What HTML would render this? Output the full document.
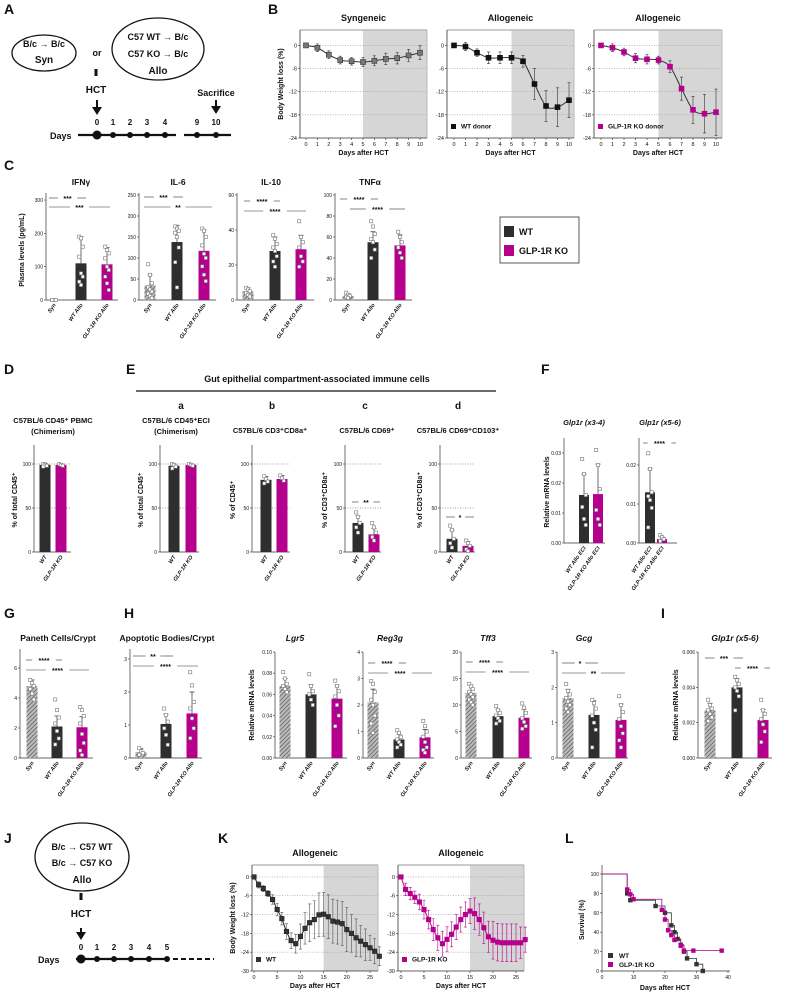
<!DOCTYPE html>
<html><head><meta charset="utf-8"><style>
html,body{margin:0;padding:0;background:#fff;}
svg{display:block;font-family:"Liberation Sans",sans-serif;}
</style></head><body>
<svg id="fig" width="787" height="1001" viewBox="0 0 787 1001" xmlns="http://www.w3.org/2000/svg">
<defs>
<pattern id="hatch" width="3" height="3" patternUnits="userSpaceOnUse" patternTransform="rotate(45)">
<rect width="3" height="3" fill="#bbb"/><line x1="0" y1="0" x2="0" y2="3" stroke="#555" stroke-width="1.4"/>
</pattern>
</defs>
</svg>
<script>
// ---------------- DATA ----------------
const bDays=[0,1,2,3,4,5,6,7,8,9,10];
const bSynMean=[0,-0.6,-2.4,-3.8,-4.1,-4.3,-4,-3.5,-3.3,-2.6,-1.9];
const bSynErr=[0,1,1,1,1,1.2,1.3,1.5,1.5,1.6,1.8];
const bWtMean=[0,-0.3,-1.9,-3.2,-3.2,-3.2,-4.1,-10,-15.7,-16,-14.2];
const bWtErr=[0,1,1,1.5,1.5,1.5,1.5,4,4,5,4.5];
const bKoMean=[0,-0.6,-1.7,-3.3,-3.6,-3.8,-5.5,-11.2,-16.7,-17.7,-17.3];
const bKoErr=[0,1,1,1.2,1.2,1,1.5,3,3.5,5,6];
const bYTicks=[0,-6,-12,-18,-24];

const cGroups=["Syn","WT Allo","GLP-1R KO Allo"];
const ifnMean=[1,110,107]; const ifnErr=[0,80,50];
const ifnPts=[[0,0,0,0],[190,185,160,130,80,70,55,45],[160,150,140,125,100,90,70,50,30]];
const il6Mean=[35,138,117]; const il6Err=[25,40,50];
const il6Pts=[[85,60,40,30,25,20,15,10,5],[175,170,165,160,150,125,90,30],[170,165,150,130,110,100,80,60,45]];
const il10Mean=[5,28,29]; const il10Err=[2,8,8];
const il10Pts=[[7,6,5,4,3,2],[37,35,32,30,28,25,22,19],[45,36,33,30,25,22,19]];
const tnfMean=[4,55,52]; const tnfErr=[2,10,10];
const tnfPts=[[7,5,4,3,2],[75,70,63,58,55,48,40],[65,60,55,50,45,40]];

const dGroups=["WT","GLP-1R KO"];
const dMean=[99,99]; const dErr=[2,1]; const dPts=[[100,99,98,97],[100,99,98]];
const eaMean=[98,99]; const eaErr=[2,1]; const eaPts=[[100,99,97,95],[100,99,98]];
const ebMean=[82,83]; const ebErr=[4,4]; const ebPts=[[86,83,80,78],[87,84,81]];
const ecMean=[33,20]; const ecErr=[8,7]; const ecPts=[[45,40,33,28,22],[33,28,22,17,13]];
const edMean=[15,7]; const edErr=[10,5]; const edPts=[[30,25,15,10,5],[13,10,7,3,1]];
const fGroups=["WT Allo ECI","GLP-1R KO Allo ECI"];
const f1Mean=[0.016,0.0163]; const f1Err=[0.007,0.01];
const f1Pts=[[0.028,0.023,0.016,0.012,0.008,0.006],[0.031,0.026,0.018,0.011,0.008,0.006]];
const f2Mean=[0.013,0.001]; const f2Err=[0.006,0.0005];
const f2Pts=[[0.023,0.019,0.013,0.012,0.011,0.009,0.004],[0.002,0.0015,0.001,0.0005]];

const g1Mean=[4.8,2.1,2.05]; const g1Err=[0.4,0.7,0.7];
const g1Pts=[[5.2,5,4.8,4.6,4.3,3.9],[3.9,3.2,2.7,2.3,1.8,1.3,0.9],[3.4,3.2,2.8,2.3,1.6,1,0.5,0.2]];
const g2Mean=[0.18,1.03,1.35]; const g2Err=[0.1,0.3,0.65];
const g2Pts=[[0.3,0.2,0.15,0.1],[1.5,1.3,1.1,0.9,0.7,0.4],[2.6,2.2,1.7,1.5,1.2,0.9,0.6]];
const lgr5Mean=[0.068,0.060,0.056]; const lgr5Err=[0.007,0.009,0.012];
const lgr5Pts=[[0.081,0.075,0.07,0.068,0.065,0.062],[0.079,0.068,0.063,0.06,0.055,0.05],[0.073,0.068,0.063,0.058,0.05,0.04,0.03]];
const reg3gMean=[2.1,0.7,0.78]; const reg3gErr=[0.5,0.2,0.3];
const reg3gPts=[[2.9,2.8,2.5,2.2,2,1.6,1.3,0.95],[1.05,0.95,0.8,0.7,0.6,0.5,0.4],[1.4,1.2,1,0.8,0.6,0.4,0.3,0.2]];
const tff3Mean=[12.3,7.9,7.6]; const tff3Err=[1.5,1.3,1.6];
const tff3Pts=[[14,13.5,13,12.5,12,11.5,11,10.5,10],[9.8,9,8.5,8,7.5,7,6.5],[10.3,9.5,8.5,7.5,6.8,6,5.5]];
const gcgMean=[1.7,1.22,1.08]; const gcgErr=[0.25,0.4,0.45];
const gcgPts=[[2.1,1.9,1.8,1.7,1.6,1.5,1.4,1.3],[1.65,1.55,1.4,1.2,1,0.8,0.3],[1.75,1.5,1.3,1.1,0.9,0.7,0.5,0.3]];
const iMean=[0.0027,0.0040,0.00215]; const iErr=[0.0004,0.0005,0.0006];
const iPts=[[0.0033,0.003,0.0028,0.0027,0.0025,0.0023,0.0021],[0.0046,0.0044,0.0042,0.004,0.0038,0.0035,0.0027],[0.0033,0.0027,0.0025,0.0022,0.0019,0.0015,0.0009]];

const kDays=[0,1,2,3,4,5,6,7,8,9,10,11,12,13,14,15,16,17,18,19,20,21,22,23,24,25,26,27];
const kWtMean=[0,-2.5,-3.7,-5.3,-7.2,-10.4,-13.3,-17.4,-20.3,-21.3,-19,-16.4,-14.6,-13.6,-12.1,-11.9,-12.7,-14.1,-14.4,-14.9,-16.8,-18,-19.4,-20.5,-21.6,-22.6,-23.7,-25.3];
const kWtErr=[0,1,1,1,1.5,2,2,2.5,2.5,3,4,5,6,6,7,7,7,7,7,7,7,6,6,5,5,4,4,3];
const kKoMean=[0,-4,-5.3,-6.5,-8,-10.4,-13.6,-16.8,-19.4,-21.3,-19.9,-18.3,-16,-13.6,-12,-10.9,-11.7,-13.6,-16.2,-19.1,-20.2,-20.8,-21,-21,-21,-21,-21,-20];
const kKoErr=[0,2,2,2,2.5,3,3,3.5,4,4,4,4,4,4,4,4,5,5,5,5,6,6,6,6,6,6,5,4];
const kYTicks=[0,-6,-12,-18,-24,-30];
const kXTicks=[0,5,10,15,20,25];

const lWtT=[0,8,9,17,20,22,23,24,25,26,27,30,32];
const lWtS=[100,80,73,67,60,47,40,33,27,20,13,7,0];
const lKoT=[0,8,9,10,19,20,21,22,23,25,26,29,38];
const lKoS=[100,84,79,74,63,53,42,37,32,26,21,21,21];
const lXTicks=[0,10,20,30,40];
const lYTicks=[0,20,40,60,80,100];

// ---------------- HELPERS ----------------
const NS="http://www.w3.org/2000/svg";
const svg=document.getElementById('fig');
const WT="#2e2e2e", KO="#b4008c";
function mk(tag,attrs,parent){const e=document.createElementNS(NS,tag);for(const k in attrs)e.setAttribute(k,attrs[k]);(parent||svg).appendChild(e);return e;}
function txt(x,y,s,size,opts,parent){const o=Object.assign({x:x,y:y,'font-size':size,fill:'#111'},opts||{});const t=mk('text',o,parent);t.textContent=s;return t;}
function fmt(v){return String(v);}

// panel letters
[["A",4,14],["B",268,14],["C",4,170],["D",4,374],["E",126,374],["F",541,374],["G",4,618],["H",124,618],["I",661,618],["J",4,843],["K",218,843],["L",565,843]].forEach(p=>{
  const t=txt(p[1],p[2],p[0],14,{'font-weight':'bold'});
  
  
});

// ---------------- PANEL A ----------------
(function(){
  const g=mk('g',{});
  
  
  const e1=mk('ellipse',{cx:44,cy:53,rx:32,ry:18,fill:'none',stroke:'#111','stroke-width':1.3},g);
  
  
  txt(44,47,"B/c → B/c",9,{'text-anchor':'middle','font-weight':'bold'},g);
  txt(44,63,"Syn",10,{'text-anchor':'middle','font-weight':'bold'},g);
  txt(97,56,"or",9,{'text-anchor':'middle','font-weight':'bold'},g);
  const e2=mk('ellipse',{cx:158,cy:49,rx:46,ry:31,fill:'none',stroke:'#111','stroke-width':1.3},g);
  
  
  txt(158,40,"C57 WT → B/c",9,{'text-anchor':'middle','font-weight':'bold'},g);
  txt(158,57,"C57 KO  → B/c",9,{'text-anchor':'middle','font-weight':'bold'},g);
  txt(158,74,"Allo",10,{'text-anchor':'middle','font-weight':'bold'},g);
  mk('rect',{x:94.5,y:69,width:3,height:7,fill:'#111'},g);
  txt(96,93,"HCT",10,{'text-anchor':'middle','font-weight':'bold'},g);
  mk('line',{x1:97,y1:100,x2:97,y2:108,stroke:'#111','stroke-width':2},g);
  mk('path',{d:'M92,107 L102,107 L97,115 Z',fill:'#111'},g);
  txt(216,96,"Sacrifice",9,{'text-anchor':'middle','font-weight':'bold'},g);
  mk('line',{x1:216,y1:100,x2:216,y2:107,stroke:'#111','stroke-width':2},g);
  mk('path',{d:'M211,106 L221,106 L216,114 Z',fill:'#111'},g);
  txt(50,139,"Days",9,{'font-weight':'bold'},g);
  mk('line',{x1:78,y1:135,x2:176,y2:135,stroke:'#111','stroke-width':2.2},g);
  mk('line',{x1:184,y1:135,x2:231,y2:135,stroke:'#111','stroke-width':2.2},g);
  const dx=[97,113,130,147,165,197,216], dl=["0","1","2","3","4","9","10"];
  dx.forEach((x,i)=>{mk('circle',{cx:x,cy:135,r:i==0?4.5:3,fill:'#111'},g);txt(x,125,dl[i],8,{'text-anchor':'middle','font-weight':'bold'},g);});
})();

// ---------------- LINE PANELS (B, K) ----------------
function smoothPath(pts){
  let d='M'+pts[0][0]+','+pts[0][1];
  for(let i=0;i<pts.length-1;i++){
    const p0=pts[Math.max(0,i-1)],p1=pts[i],p2=pts[i+1],p3=pts[Math.min(pts.length-1,i+2)];
    const c1x=p1[0]+(p2[0]-p0[0])/6,c1y=p1[1]+(p2[1]-p0[1])/6,c2x=p2[0]-(p3[0]-p1[0])/6,c2y=p2[1]-(p3[1]-p1[1])/6;
    d+=` C${c1x},${c1y} ${c2x},${c2y} ${p2[0]},${p2[1]}`;
  }
  return d;
}
function linePanel(o){
  const g=mk('g',{});
  
  
  const sx=v=>o.dx0+(v-o.xmin)*(o.dx1-o.dx0)/(o.xref-o.xmin);
  const sy=v=>o.top+(o.ymax-v)*(o.bot-o.top)/(o.ymax-o.ymin);
  const sh=mk('rect',{x:sx(o.shade),y:o.top,width:o.right-sx(o.shade),height:o.bot-o.top,fill:'#d6d6d6'},g);
  
  
  mk('line',{x1:o.left,y1:o.top,x2:o.right,y2:o.top,stroke:'#bbb','stroke-width':1.5},g);
  mk('line',{x1:o.right,y1:o.top,x2:o.right,y2:o.bot,stroke:'#bbb','stroke-width':1},g);
  mk('line',{x1:o.left,y1:o.top,x2:o.left,y2:o.bot,stroke:'#333','stroke-width':0.8},g);
  mk('line',{x1:o.left,y1:o.bot,x2:o.right,y2:o.bot,stroke:'#333','stroke-width':0.8},g);
  o.yt.forEach(v=>{
    const y=sy(v);
    if(v!==o.ymin) mk('line',{x1:o.left,y1:y,x2:o.right,y2:y,stroke:'#999','stroke-width':0.6,'stroke-dasharray':'1,1.5'},g);
    mk('line',{x1:o.left-2,y1:y,x2:o.left,y2:y,stroke:'#333','stroke-width':0.6},g);
    txt(o.left-3,y+2,fmt(v),5.5,{'text-anchor':'end'},g);
  });
  o.xt.forEach(v=>{
    const x=sx(v);
    mk('line',{x1:x,y1:o.bot,x2:x,y2:o.bot+2,stroke:'#333','stroke-width':0.6},g);
    txt(x,o.bot+8,fmt(v),5.5,{'text-anchor':'middle'},g);
  });
  const xl=txt((o.left+o.right)/2,o.bot+17,"Days after HCT",7,{'text-anchor':'middle','font-weight':'bold'},g);
  
  
  const tt=txt((o.left+o.right)/2,o.top-9,o.title,9,{'text-anchor':'middle','font-weight':'bold'},g);
  
  
  if(o.ylabel){
    const yl=txt(0,0,"Body Weight loss (%)",7,{'text-anchor':'middle','font-weight':'bold',transform:`translate(${o.left-17},${(o.top+o.bot)/2}) rotate(-90)`},g);
    
    
  }
  const pts=o.days.map((d,i)=>[sx(d),sy(o.mean[i])]);
  const ln=mk('path',{d:smoothPath(pts),fill:'none',stroke:o.lineColor,'stroke-width':1},g);
  
  
  o.days.forEach((d,i)=>{
    const x=sx(d),y=sy(o.mean[i]),e=o.err[i];
    if(e>0){
      const eb=mk('path',{d:`M${x},${sy(o.mean[i]+e)} V${sy(o.mean[i]-e)} M${x-1.5},${sy(o.mean[i]+e)} H${x+1.5} M${x-1.5},${sy(o.mean[i]-e)} H${x+1.5}`,stroke:o.errColor,'stroke-width':0.6,fill:'none'},g);
      
      
    }
    const m=mk('rect',{x:x-o.ms/2,y:y-o.ms/2,width:o.ms,height:o.ms,fill:o.color,stroke:o.stroke,'stroke-width':0.6},g);
    
    
  });
  if(o.legend){
    const ls=mk('rect',{x:o.left+4,y:o.bot-14,width:5,height:5,fill:o.color},g);
    
    
    const lt=txt(o.left+14,o.bot-9.5,o.legend,6.5,{'font-weight':'bold'},g);
    
    
  }
}
const bBase={top:30,bot:138,ymax:4,ymin:-24,xmin:0,xref:10,shade:5,yt:bYTicks,xt:bDays,days:bDays,ms:5};
linePanel(Object.assign({},bBase,{name:'chart-b-syngeneic',left:300,right:427,dx0:306,dx1:420,title:"Syngeneic",mean:bSynMean,err:bSynErr,color:'#777',stroke:'#333',lineColor:'#333',errColor:'#333',ylabel:true}));
linePanel(Object.assign({},bBase,{name:'chart-b-allo-wt',left:447,right:574,dx0:454,dx1:569,title:"Allogeneic",mean:bWtMean,err:bWtErr,color:'#111',stroke:'#111',lineColor:'#333',errColor:'#333',legend:"WT donor"}));
linePanel(Object.assign({},bBase,{name:'chart-b-allo-ko',left:594,right:722,dx0:601,dx1:716,title:"Allogeneic",mean:bKoMean,err:bKoErr,color:KO,stroke:KO,lineColor:'#333',errColor:'#333',legend:"GLP-1R KO donor"}));
const kBase={top:865,bot:971,ymax:3.8,ymin:-30,xmin:0,xref:25,shade:15,yt:kYTicks,xt:kXTicks,days:kDays,ms:4.5};
linePanel(Object.assign({},kBase,{name:'chart-k-wt',left:252,right:378,dx0:254,dx1:370,title:"Allogeneic",mean:kWtMean,err:kWtErr,color:'#333',stroke:'#222',lineColor:'#222',errColor:'#555',ylabel:true,legend:"WT"}));
linePanel(Object.assign({},kBase,{name:'chart-k-ko',left:398,right:524,dx0:401,dx1:516,title:"Allogeneic",mean:kKoMean,err:kKoErr,color:KO,stroke:KO,lineColor:KO,errColor:KO,legend:"GLP-1R KO"}));

// ---------------- BAR PANELS ----------------
function barPanel(o){
  const g=mk('g',{});
  
  
  const sy=v=>o.base-(v-0)*o.ppu;
  const top=o.top;
  mk('line',{x1:o.ax,y1:top,x2:o.ax,y2:o.base,stroke:'#333','stroke-width':0.7},g);
  mk('line',{x1:o.ax,y1:o.base,x2:o.right,y2:o.base,stroke:'#333','stroke-width':0.7},g);
  o.ticks.forEach((v,i)=>{
    const y=sy(v);
    mk('line',{x1:o.ax-2,y1:y,x2:o.ax,y2:y,stroke:'#333','stroke-width':0.6},g);
    txt(o.ax-3,y+2,o.tl[i],5,{'text-anchor':'end'},g);
  });
  (o.grid||[]).forEach(v=>mk('line',{x1:o.ax,y1:sy(v),x2:o.right,y2:sy(v),stroke:'#444','stroke-width':0.6,'stroke-dasharray':'1,1.5'},g));
  if(o.title){
    const t=txt(o.tx!==undefined?o.tx:(o.ax+o.right)/2,o.ty,o.title,o.tsize||8.5,{'text-anchor':'middle','font-weight':'bold','font-style':o.italic?'italic':'normal'},g);
    
    
  }
  if(o.ylabel){
    const yl=txt(0,0,o.ylabel,7,{'text-anchor':'middle','font-weight':'bold',transform:`translate(${o.ylx},${o.yly}) rotate(-90)`},g);
    
    
  }
  const w=o.bw||11;
  o.bx.forEach((x,i)=>{
    const v=o.mean[i];
    const fill=o.types[i]==='syn'?'url(#hatch)':(o.types[i]==='wt'?WT:KO);
    const b=mk('rect',{x:x-w/2,y:sy(v),width:w,height:o.base-sy(v),fill:fill},g);
    
    
    const e=o.err[i];
    if(e>0){
      const eb=mk('path',{d:`M${x},${sy(v)} V${sy(v+e)} M${x-2.5},${sy(v+e)} H${x+2.5}`,stroke:'#333','stroke-width':0.7,fill:'none'},g);
      
      
    }
    o.pts[i].forEach((p,j)=>{
      const jit=((j%3)-1)*1.8;
      const pt=mk('rect',{x:x+jit-1.6,y:sy(p)-1.6,width:3.2,height:3.2,fill:'#fff',stroke:'#777','stroke-width':0.6},g);
      
      
    });
    const lab=txt(0,0,o.groups[i],5.5,{'text-anchor':'end','font-weight':'bold','font-style':'italic',transform:`translate(${x+2},${o.base+5}) rotate(-55)`},g);
    
    
  });
  (o.sig||[]).forEach(s=>{
    const mid=(s[0]+s[1])/2, hw=s[3].length*2.2+3;
    mk('line',{x1:s[0],y1:s[2],x2:mid-hw,y2:s[2],stroke:'#333','stroke-width':0.6},g);
    mk('line',{x1:mid+hw,y1:s[2],x2:s[1],y2:s[2],stroke:'#333','stroke-width':0.6},g);
    const st=txt(mid,s[2]+3,s[3],7,{'text-anchor':'middle','font-weight':'bold'},g);
    
    
  });
}
const T3=['syn','wt','ko'], T2=['wt','ko'];
// C
barPanel({name:'chart-c-ifng',ax:46,right:118,base:300,top:193,ppu:0.3333,ticks:[0,100,200,300],tl:["0","100","200","300"],bx:[54,81,107],mean:ifnMean,err:ifnErr,pts:ifnPts,types:T3,groups:cGroups,title:"IFNγ",ty:185,tx:81,ylabel:"Plasma levels (pg/mL)",ylx:24,yly:250,sig:[[49,86,198,"***"],[49,110,207,"***"]]});
barPanel({name:'chart-c-il6',ax:139,right:216,base:300,top:193,ppu:0.42,ticks:[0,50,100,150,200,250],tl:["0","50","100","150","200","250"],bx:[150,177,204],mean:il6Mean,err:il6Err,pts:il6Pts,types:T3,groups:cGroups,title:"IL-6",ty:185,tx:178,sig:[[144,183,197,"***"],[144,212,207,"**"]]});
barPanel({name:'chart-c-il10',ax:237,right:314,base:300,top:193,ppu:1.75,ticks:[0,20,40,60],tl:["0","20","40","60"],bx:[248,275,301],mean:il10Mean,err:il10Err,pts:il10Pts,types:T3,groups:cGroups,title:"IL-10",ty:185,tx:271,sig:[[244,280,201,"****"],[244,306,211,"****"]]});
barPanel({name:'chart-c-tnfa',ax:335,right:412,base:300,top:193,ppu:1.05,ticks:[0,20,40,60,80,100],tl:["0","20","40","60","80","100"],bx:[348,373,400],mean:tnfMean,err:tnfErr,pts:tnfPts,types:T3,groups:cGroups,title:"TNFα",ty:185,tx:370,sig:[[340,378,199,"****"],[350,405,209,"****"]]});
// legend C
(function(){
  const g=mk('g',{});
  
  
  mk('rect',{x:500,y:217,width:79,height:46,fill:'#fff',stroke:'#333','stroke-width':0.8},g);
  mk('rect',{x:504,y:226,width:10,height:11,fill:WT},g);
  const l1=txt(519,235,"WT",9,{'font-weight':'bold'},g);
  
  
  mk('rect',{x:504,y:245,width:10,height:11,fill:KO},g);
  const l2=txt(519,254,"GLP-1R KO",9,{'font-weight':'bold'},g);
  
  
})();
// E header
(function(){
  const h=txt(317,382,"Gut epithelial compartment-associated immune cells",9,{'text-anchor':'middle','font-weight':'bold'});
  
  
  mk('line',{x1:136,y1:391,x2:496,y2:391,stroke:'#111','stroke-width':1.3});
  [["a",181],["b",272],["c",365],["d",458]].forEach(s=>{const t=txt(s[1],409,s[0],10,{'text-anchor':'middle','font-weight':'bold'});});
})();
// D, E
const pctTicks=[0,50,100], pctTL=["0","50","100"];
const dppu=(552-464)/100;
barPanel({name:'chart-d-pbmc',ax:34,right:71,base:552,top:445,ppu:dppu,ticks:pctTicks,tl:pctTL,grid:[50,100],bx:[45,61],mean:dMean,err:dErr,pts:dPts,types:T2,groups:dGroups,ylabel:"% of total CD45⁺",ylx:17,yly:500});
barPanel({name:'chart-e-a-eci',ax:160,right:199,base:552,top:445,ppu:dppu,ticks:pctTicks,tl:pctTL,grid:[50,100],bx:[174,191],mean:eaMean,err:eaErr,pts:eaPts,types:T2,groups:dGroups,ylabel:"% of total CD45⁺",ylx:143,yly:500});
barPanel({name:'chart-e-b-cd3cd8a',ax:252,right:290,base:552,top:445,ppu:dppu,ticks:pctTicks,tl:pctTL,grid:[50,100],bx:[266,282],mean:ebMean,err:ebErr,pts:ebPts,types:T2,groups:dGroups,ylabel:"% of CD45⁺",ylx:235,yly:500});
barPanel({name:'chart-e-c-cd69',ax:345,right:381,base:552,top:445,ppu:dppu,ticks:pctTicks,tl:pctTL,grid:[50,100],bx:[358,374],mean:ecMean,err:ecErr,pts:ecPts,types:T2,groups:dGroups,ylabel:"% of CD3⁺CD8a⁺",ylx:327,yly:500,sig:[[352,380,502,"**"]]});
barPanel({name:'chart-e-d-cd69cd103',ax:440,right:475,base:552,top:445,ppu:dppu,ticks:pctTicks,tl:pctTL,grid:[50,100],bx:[452,468],mean:edMean,err:edErr,pts:edPts,types:T2,groups:dGroups,ylabel:"% of CD3⁺CD8a⁺",ylx:422,yly:500,sig:[[446,474,517,"*"]]});
[["C57BL/6 CD45⁺ PBMC",53,423],["(Chimerism)",53,434],["C57BL/6 CD45⁺ECI",176,423],["(Chimerism)",176,434],["C57BL/6 CD3⁺CD8a⁺",270,433],["C57BL/6 CD69⁺",367,433],["C57BL/6 CD69⁺CD103⁺",458,433]].forEach(s=>{
  const t=txt(s[1],s[2],s[0],7.5,{'text-anchor':'middle','font-weight':'bold'});
  
  
});
// F
barPanel({name:'chart-f-glp1r-x34',ax:564,right:605,base:543,top:438,ppu:3000,ticks:[0,0.01,0.02,0.03],tl:["0.00","0.01","0.02","0.03"],bx:[584,598],bw:10,mean:f1Mean,err:f1Err,pts:f1Pts,types:T2,groups:fGroups,title:"Glp1r (x3-4)",italic:true,ty:425,tx:584,tsize:7.5,ylabel:"Relative mRNA levels",ylx:549,yly:492});
barPanel({name:'chart-f-glp1r-x56',ax:639,right:677,base:543,top:438,ppu:3900,ticks:[0,0.01,0.02],tl:["0.00","0.01","0.02"],bx:[650,662],bw:10,mean:f2Mean,err:f2Err,pts:f2Pts,types:T2,groups:fGroups,title:"Glp1r (x5-6)",italic:true,ty:425,tx:660,tsize:7.5,sig:[[643,676,443,"****"]]});
// G, H, I
barPanel({name:'chart-g-paneth',ax:20,right:93,base:758,top:649,ppu:15,ticks:[0,2,4,6],tl:["0","2","4","6"],bx:[32,57,82],mean:g1Mean,err:g1Err,pts:g1Pts,types:T3,groups:cGroups,title:"Paneth Cells/Crypt",ty:641,tx:58,sig:[[26,62,660,"****"],[26,89,670,"****"]]});
barPanel({name:'chart-g-apoptotic',ax:130,right:202,base:758,top:649,ppu:33,ticks:[0,1,2,3],tl:["0","1","2","3"],grid:[0],bx:[141,166,192],mean:g2Mean,err:g2Err,pts:g2Pts,types:T3,groups:cGroups,title:"Apoptotic Bodies/Crypt",ty:641,tx:167,sig:[[133,173,656,"**"],[133,198,666,"****"]]});
barPanel({name:'chart-h-lgr5',ax:275,right:347,base:758,top:652,ppu:1060,ticks:[0,0.02,0.04,0.06,0.08,0.10],tl:["0.00","0.02","0.04","0.06","0.08","0.10"],bx:[285,311,337],mean:lgr5Mean,err:lgr5Err,pts:lgr5Pts,types:T3,groups:cGroups,title:"Lgr5",italic:true,ty:641,tx:295,ylabel:"Relative mRNA levels",ylx:254,yly:705});
barPanel({name:'chart-h-reg3g',ax:363,right:434,base:758,top:652,ppu:26.5,ticks:[0,1,2,3,4],tl:["0","1","2","3","4"],bx:[373,399,425],mean:reg3gMean,err:reg3gErr,pts:reg3gPts,types:T3,groups:cGroups,title:"Reg3g",italic:true,ty:641,tx:390,sig:[[368,406,663,"****"],[368,432,673,"****"]]});
barPanel({name:'chart-h-tff3',ax:461,right:532,base:758,top:652,ppu:5.3,ticks:[0,5,10,15,20],tl:["0","5","10","15","20"],bx:[471,498,524],mean:tff3Mean,err:tff3Err,pts:tff3Pts,types:T3,groups:cGroups,title:"Tff3",italic:true,ty:641,tx:488,sig:[[466,503,662,"****"],[466,529,672,"****"]]});
barPanel({name:'chart-h-gcg',ax:557,right:628,base:758,top:652,ppu:35.3,ticks:[0,1,2,3],tl:["0","1","2","3"],bx:[568,594,621],mean:gcgMean,err:gcgErr,pts:gcgPts,types:T3,groups:cGroups,title:"Gcg",italic:true,ty:641,tx:584,sig:[[562,598,663,"*"],[562,625,673,"**"]]});
barPanel({name:'chart-i-glp1r',ax:698,right:772,base:758,top:652,ppu:17650,ticks:[0,0.002,0.004,0.006],tl:["0.000","0.002","0.004","0.006"],bx:[710,737,763],mean:iMean,err:iErr,pts:iPts,types:T3,groups:cGroups,title:"Glp1r (x5-6)",italic:true,ty:641,tx:735,ylabel:"Relative mRNA levels",ylx:678,yly:705,sig:[[705,743,658,"***"],[735,770,668,"****"]]});

// ---------------- PANEL J ----------------
(function(){
  const g=mk('g',{});
  
  
  const e=mk('ellipse',{cx:82,cy:857,rx:47,ry:34,fill:'none',stroke:'#111','stroke-width':1.3},g);
  
  
  txt(82,850,"B/c → C57 WT",9,{'text-anchor':'middle','font-weight':'bold'},g);
  txt(82,866,"B/c → C57 KO",9,{'text-anchor':'middle','font-weight':'bold'},g);
  txt(82,883,"Allo",10,{'text-anchor':'middle','font-weight':'bold'},g);
  mk('rect',{x:79.5,y:893,width:3,height:7,fill:'#111'},g);
  txt(81,917,"HCT",10,{'text-anchor':'middle','font-weight':'bold'},g);
  mk('line',{x1:81,y1:928,x2:81,y2:933,stroke:'#111','stroke-width':2},g);
  mk('path',{d:'M76,932 L86,932 L81,940 Z',fill:'#111'},g);
  txt(38,963,"Days",9,{'font-weight':'bold'},g);
  mk('line',{x1:76,y1:959,x2:169,y2:959,stroke:'#111','stroke-width':2.2},g);
  mk('line',{x1:173,y1:959,x2:214,y2:959,stroke:'#111','stroke-width':2,'stroke-dasharray':'5,3'},g);
  [81,97,114,131,149,167].forEach((x,i)=>{mk('circle',{cx:x,cy:959,r:i==0?4.5:3,fill:'#111'},g);txt(x,950,String(i),8,{'text-anchor':'middle','font-weight':'bold'},g);});
})();

// ---------------- PANEL L (survival) ----------------
(function(){
  const g=mk('g',{});
  
  
  const x0=602,x1=728,y0=971,y1=874;
  const sx=v=>x0+v*(x1-x0)/40, sy=v=>y0-v*(y0-y1)/100;
  mk('line',{x1:x0,y1:865,x2:x0,y2:y0,stroke:'#333','stroke-width':0.7},g);
  mk('line',{x1:x0,y1:y0,x2:x1+2,y2:y0,stroke:'#333','stroke-width':0.7},g);
  lYTicks.forEach(v=>{mk('line',{x1:x0-2,y1:sy(v),x2:x0,y2:sy(v),stroke:'#333','stroke-width':0.6},g);txt(x0-3,sy(v)+2,String(v),5,{'text-anchor':'end'},g);});
  lXTicks.forEach(v=>{mk('line',{x1:sx(v),y1:y0,x2:sx(v),y2:y0+2,stroke:'#333','stroke-width':0.6},g);txt(sx(v),y0+8,String(v),5,{'text-anchor':'middle'},g);});
  const yl=txt(0,0,"Survival  (%)",7,{'text-anchor':'middle','font-weight':'bold',transform:`translate(584,920) rotate(-90)`},g);
  
  
  const xl=txt(665,990,"Days after HCT",7,{'text-anchor':'middle','font-weight':'bold'},g);
  
  
  function step(T,S,color,nm){
    let d=`M${sx(T[0])},${sy(S[0])}`;
    for(let i=1;i<T.length;i++){d+=` H${sx(T[i])} V${sy(S[i])}`;}
    const p=mk('path',{d:d,fill:'none',stroke:color,'stroke-width':0.8},g);
    
    
    for(let i=1;i<T.length;i++){
      const m=mk('rect',{x:sx(T[i])-2.2,y:sy(S[i])-2.2,width:4.4,height:4.4,fill:color},g);
      
      
    }
  }
  step(lWtT,lWtS,'#333','wt');
  step(lKoT,lKoS,KO,'ko');
  mk('rect',{x:608,y:953,width:5,height:5,fill:'#333'},g);
  const l1=txt(619,958,"WT",6.5,{'font-weight':'bold'},g);
  
  
  mk('rect',{x:608,y:962,width:5,height:5,fill:KO},g);
  const l2=txt(619,967,"GLP-1R KO",6.5,{'font-weight':'bold'},g);
  
  
})();
</script>
</body></html>
